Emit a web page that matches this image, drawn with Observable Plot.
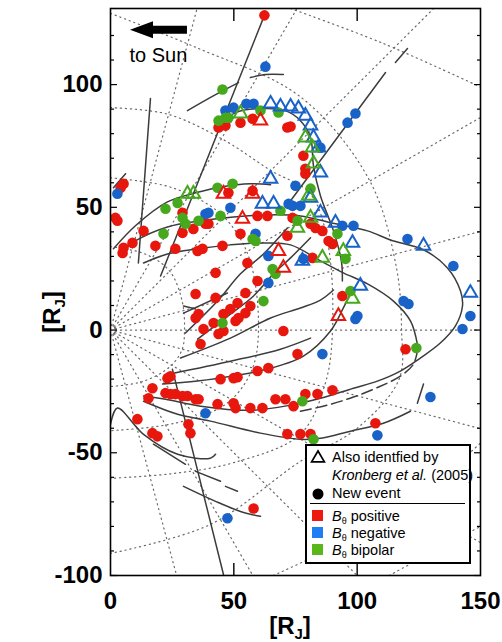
<!DOCTYPE html>
<html><head><meta charset="utf-8">
<script src="https://cdn.jsdelivr.net/npm/d3@7"></script>
<script src="https://cdn.jsdelivr.net/npm/@observablehq/plot@0.6"></script>
<style>
body{margin:0;background:#fff;}
#wrap{position:relative;width:502px;height:642px;font-family:'Liberation Sans',Arial,Helvetica,sans-serif;}
#wrap svg{display:block;}
g[aria-label$="tick label"] text{font-weight:bold;}
#legend{position:absolute;left:305px;top:444px;width:166px;height:120px;box-sizing:border-box;border:2px solid #000;background:#fff;font-size:14.5px;color:#000;}
#legend .t{position:absolute;left:25px;line-height:16px;white-space:nowrap;}
#legend .ic{position:absolute;}
#legend .sq{position:absolute;left:5px;width:11px;height:11px;}
#legend .sep{position:absolute;left:3px;width:155px;top:57px;height:0;border-top:1.6px solid #000;}
#legend sub{font-size:9px;vertical-align:-3px;line-height:0;}
</style></head><body><div id="wrap"></div>
<script>
const FONT = "'Liberation Sans', Arial, Helvetica, sans-serif";
const RED = "#e8170e", BLUE = "#1862c8", GREEN = "#46a81c";

// axis ticks
const xTicks = [0, 50, 100, 150];
const yTicks = [-100, -50, 0, 50, 100];
const yMinor = [-90,-80,-70,-60,-40,-30,-20,-10,10,20,30,40,60,70,80,90,110,120];
const xInner = [50, 100];

// events: new events (dots)
const posDots = [[62.4,128.2],[43.8,82.5],[46.6,83.3],[52.7,84.5],[57.6,86.1],[71.7,82.5],[73.0,82.9],[57.6,56.7],[47.8,55.9],[5.3,59.6],[4.1,58.0],[2.0,45.7],[2.8,44.5],[78.2,71.0],[79.0,65.7],[79.0,63.7],[29.2,47.8],[33.6,41.2],[29.2,39.6],[38.5,43.3],[39.7,43.3],[13.4,40.4],[8.9,35.5],[5.3,33.5],[4.9,31.4],[18.2,34.3],[26.3,33.1],[35.3,32.2],[37.3,33.1],[45.4,34.3],[52.7,39.2],[59.6,46.5],[63.6,46.5],[71.7,38.4],[73.8,45.7],[81.1,43.3],[83.1,41.6],[85.9,40.4],[88.4,36.3],[90.0,35.1],[81.9,29.4],[55.5,27.3],[42.6,23.3],[59.6,20.0],[34.5,14.7],[42.6,13.1],[54.7,15.1],[51.5,11.0],[48.6,8.6],[56.7,9.8],[35.7,6.5],[34.5,4.9],[45.8,6.5],[41.8,2.9],[50.7,3.7],[51.9,4.9],[54.7,6.9],[37.7,0.4],[43.8,-1.6],[45.8,-0.4],[36.5,-5.7],[70.1,-0.4],[75.8,-9.8],[64.0,-15.5],[59.6,-16.7],[23.1,-19.6],[24.3,-18.8],[94.0,13.9],[119.6,-7.8],[44.6,-20.0],[49.9,-19.6],[51.5,-19.2],[17.0,-23.7],[22.3,-25.7],[24.3,-26.1],[26.3,-26.1],[29.2,-26.9],[31.2,-26.9],[34.5,-28.2],[35.7,-28.2],[15.4,-27.8],[43.4,-30.2],[49.9,-29.8],[50.7,-31.8],[56.7,-31.8],[61.6,-31.8],[66.9,-28.2],[70.9,-28.2],[74.2,-31.0],[10.9,-36.3],[17.0,-42.0],[19.0,-43.3],[31.6,-38.4],[32.4,-42.0],[71.7,-42.4],[77.0,-42.4],[81.1,-42.4],[79.0,-26.1],[83.9,-26.1],[90.0,-24.5],[107.4,-38.0],[58.0,-72.7]];
const negDots = [[62.8,107.3],[46.6,89.4],[49.9,90.6],[55.1,92.2],[58.0,92.2],[99.3,88.2],[96.1,84.5],[85.1,74.3],[75.0,58.8],[2.8,55.5],[48.6,49.8],[38.5,47.3],[39.7,47.8],[72.2,51.4],[73.8,50.6],[77.0,50.6],[94.0,42.5],[98.5,42.5],[120.4,37.1],[139.0,26.1],[118.8,11.8],[120.8,10.6],[100.1,5.7],[99.3,4.5],[145.9,5.7],[142.7,0.4],[85.9,-9.8],[78.2,29.0],[58.8,39.2],[64.0,30.2],[64.0,19.2],[38.5,-33.9],[47.4,-76.7],[129.7,-27.3],[108.2,-42.9]];
const bipDots = [[45.4,98.0],[43.8,85.3],[46.6,86.5],[47.8,86.5],[60.8,89.4],[68.1,88.6],[43.4,58.0],[49.5,59.6],[81.1,57.6],[22.3,49.4],[27.2,51.8],[29.2,45.7],[30.4,43.3],[35.7,44.5],[44.6,46.5],[68.9,48.6],[75.8,44.5],[57.6,37.1],[58.8,36.3],[65.7,24.9],[66.9,22.9],[62.0,11.8],[92.0,39.2],[95.3,29.0],[97.3,15.9],[124.0,-7.3],[45.4,2.9],[77.8,-29.0],[82.3,-44.5],[21.5,39.2]];
// events also identified by Kronberg et al. (triangles)
const posTri = [[60.8,85.3],[45.8,55.5],[57.6,55.5],[53.5,45.3],[68.1,32.2],[70.1,25.3],[92.4,5.7]];
const negTri = [[64.9,92.2],[68.9,91.0],[73.0,91.0],[76.2,90.2],[79.0,87.3],[81.1,83.3],[82.3,78.4],[84.3,74.3],[85.1,64.1],[64.9,61.6],[81.1,53.9],[61.6,51.4],[66.1,51.4],[85.1,47.8],[91.2,43.7],[98.1,35.5],[126.9,34.3],[77.8,28.2],[101.3,18.0],[145.9,15.1]];
const bipTri = [[52.7,88.2],[31.2,55.5],[33.6,55.5],[79.0,78.4],[81.9,74.3],[82.3,67.8],[80.3,54.7],[81.1,45.7],[75.8,41.6],[85.9,29.4],[94.4,32.2],[98.1,12.7]];

// spacecraft trajectories (solid)
const orbitPaths = [
  [[62.4,128.2],[20.3,22.0]],
  [[16.2,94.3],[11.3,27.3]],
  [[31.2,89.4],[42.6,95.9],[51.9,100.8]],
  [[56.7,102.9],[62.8,104.1],[70.1,104.1]],
  [[111.5,104.9],[73.0,52.7]],
  [[115.5,109.0],[120.4,114.7]],
  [[43.8,83.3],[50.7,88.6],[60.8,90.2],[70.9,89.4],[77.0,85.3],[81.1,78.4],[82.3,66.9],[85.1,54.7],[90.4,40.4],[93.6,28.2],[94.0,20.0]],
  [[1.2,33.1],[10.1,42.5],[23.1,52.2],[34.5,55.9],[45.4,58.4],[56.7,59.6],[64.9,59.2]],
  [[4.1,31.4],[10.1,36.3],[23.1,42.0],[36.5,44.5],[49.9,46.1],[63.6,46.9],[77.0,46.5],[89.2,43.7],[104.2,40.4],[113.5,36.7],[126.9,32.7],[136.6,25.3],[141.9,15.9],[142.7,9.8],[139.8,1.6],[133.7,-5.3],[125.6,-11.4],[117.5,-16.7],[108.2,-20.8],[98.5,-23.7],[85.1,-27.8],[73.0,-30.6],[56.7,-32.7],[36.5,-31.0],[22.3,-28.2],[13.4,-26.9]],
  [[13.4,27.3],[23.1,31.0],[35.3,33.1],[48.6,34.7],[62.0,35.5],[73.0,34.7],[85.1,28.2],[94.4,23.3],[104.2,18.8],[114.7,11.8],[121.6,3.7],[124.4,-5.7]],
  [[13.4,-29.0],[27.2,-34.3],[40.5,-37.1],[60.8,-42.0],[77.0,-44.5],[85.1,-44.1],[97.3,-41.2],[110.6,-38.0],[121.6,-33.1]],
  [[124.4,-29.8],[126.9,-22.0]],
  [[29.6,6.9],[47.4,15.1]],
  [[29.6,9.8],[34.5,8.6]],
  [[30.4,-1.2],[43.4,11.8],[52.7,22.9],[62.0,31.0],[71.7,41.6]],
  [[35.3,-3.7],[48.6,6.5],[58.0,13.9],[66.1,22.9],[73.0,29.4],[81.1,37.6]],
  [[28.4,-11.4],[48.6,-3.3],[64.9,4.9],[77.0,9.0],[85.1,12.2],[90.4,16.3]],
  [[25.5,-17.6],[48.6,-12.7],[68.9,-7.8],[81.1,-3.3]],
  [[21.1,-22.0],[35.3,-20.8],[62.0,-16.3],[78.2,-10.6],[89.2,-0.4],[94.4,9.0],[98.1,16.7]],
  [[0,-38.4],[2.8,-31.8],[13.4,-42.5],[27.2,-50.6],[40.5,-52.2],[42.6,-50.6]],
  [[17.4,-46.5],[30.4,-54.7]],
  [[34.5,-57.6],[44.6,-61.6]],
  [[46.6,-63.7],[51.5,-65.7]],
  [[29.6,-63.7],[42.6,-69.8],[52.7,-73.9],[60.8,-75.9]],
  [[25.1,-16.0],[45.8,-99.6]],
  [[1.2,58.0],[6.1,63.7]]
];
// trajectories drawn dashed
const dashedPaths = [
  [[77.0,-33.1],[87.9,-30.6],[98.5,-27.3],[109.4,-22.9],[117.5,-18.8],[122.8,-13.9],[124.4,-8.6]]
];

// mapped local-time lines (dotted)
const gridRays = [
  [[2,0],[150,0]],
  [[1.9,0.5],[150,40.2]], [[1.7,1],[150,86.6]], [[1.4,1.4],[131,131]], [[1,1.7],[75.6,131]], [[0.5,1.9],[35.1,131]],
  [[1.9,-0.5],[150,-40.2]], [[1.7,-1],[150,-86.6]], [[1.4,-1.4],[100,-100]], [[1,-1.7],[57.7,-100]], [[0.5,-1.9],[26.8,-100]]
];
// mapped distance contours (dotted)
const gridRings = [
  [[0,2],[1.4,1.4],[2,0],[1.4,-1.4],[0,-2]],
  [[0,34],[14,31],[24,24],[29,12],[30,0],[29,-8],[24,-15],[13,-21],[0,-23]],
  [[0,62],[25,58],[45,47],[56,30],[60,0],[57,-17],[47,-30],[26,-38],[0,-41]],
  [[0,90.6],[23,88],[45,78],[65,65],[81,55.5],[88,36],[90,0],[87,-22],[77,-42.4],[50,-54],[25,-58.5],[0,-60.4]],
  [[0,129],[35,115],[77,95],[105,61],[116,25],[118,0],[117,-20],[100,-40],[77,-53.5],[40.5,-79.2],[0,-91]],
  [[73,131],[110,117],[150,99]],
  [[66,-100],[95,-86],[120,-70],[140,-55],[150,-46]],
  [[113,-100],[135,-88],[150,-80]]
];

// annotation
const sunArrow = {tip: [8.1, 122.1], tail: [31.2, 122.1]};
const sunLabel = {x: 7.7, y: 109.4, text: "to Sun"};

const toRows = paths => paths.flatMap((p, i) => p.map(([x, y]) => ({x, y, id: i})));
const X = d => d[0], Y = d => d[1];
const GRID = {stroke: "#6a6a6a", strokeWidth: 1.2, strokeDasharray: "1.2,3.8", clip: true};

const plot = Plot.plot({
  width: 502, height: 642,
  marginLeft: 110, marginRight: 22, marginTop: 8, marginBottom: 67,
  x: {domain: [0, 150]},
  y: {domain: [-100, 131]},
  style: {fontFamily: FONT, background: "#fff", color: "#000"},
  marks: [
    Plot.line(toRows(gridRays), {x: "x", y: "y", z: "id", ...GRID}),
    Plot.line(toRows(gridRings), {x: "x", y: "y", z: "id", curve: "catmull-rom", ...GRID}),
    Plot.line(toRows(orbitPaths), {x: "x", y: "y", z: "id", curve: "catmull-rom", stroke: "#3c3c3c", strokeWidth: 1.5, clip: true}),
    Plot.line(toRows(dashedPaths), {x: "x", y: "y", z: "id", curve: "catmull-rom", stroke: "#3c3c3c", strokeWidth: 1.5, strokeDasharray: "11,5", clip: true}),
    Plot.dot(posDots, {x: X, y: Y, r: 5.3, fill: RED}),
    Plot.dot(negDots, {x: X, y: Y, r: 5.3, fill: BLUE}),
    Plot.dot(bipDots, {x: X, y: Y, r: 5.3, fill: GREEN}),
    Plot.dot(posTri, {x: X, y: Y, r: 5, symbol: "triangle", fill: "none", stroke: RED, strokeWidth: 2}),
    Plot.dot(negTri, {x: X, y: Y, r: 5, symbol: "triangle", fill: "none", stroke: BLUE, strokeWidth: 2}),
    Plot.dot(bipTri, {x: X, y: Y, r: 5, symbol: "triangle", fill: "none", stroke: GREEN, strokeWidth: 2}),
    Plot.text([sunLabel], {x: "x", y: "y", text: "text", textAnchor: "start", lineAnchor: "bottom", fontSize: 20, fill: "#000"}),
    Plot.frame({stroke: "#000", strokeWidth: 1.6}),
    Plot.axisY({anchor: "left", ticks: yTicks, tickSize: 0, tickPadding: 8, fontSize: 24, fontWeight: "bold", tickFormat: d => `${d}`, label: null}),
    Plot.axisY({anchor: "left", ticks: yMinor, tickSize: -4, tickFormat: () => "", label: null, strokeWidth: 1.2}),
    Plot.axisY({anchor: "left", ticks: yTicks, tickSize: -7, tickFormat: () => "", label: null, strokeWidth: 1.2}),
    Plot.axisY({anchor: "right", ticks: yMinor, tickSize: -4, tickFormat: () => "", label: null, strokeWidth: 1.2}),
    Plot.axisY({anchor: "right", ticks: yTicks, tickSize: -7, tickFormat: () => "", label: null, strokeWidth: 1.2}),
    Plot.axisX({anchor: "bottom", ticks: xTicks, tickSize: 0, tickPadding: 16, fontSize: 24, fontWeight: "bold", tickFormat: d => `${d}`, label: null}),
    Plot.axisX({anchor: "bottom", ticks: xInner, tickSize: -12, tickFormat: () => "", label: null, strokeWidth: 1.4}),
    Plot.axisX({anchor: "top", ticks: xInner, tickSize: -12, tickFormat: () => "", label: null, strokeWidth: 1.4})
  ]
});

const wrap = document.getElementById("wrap");
wrap.appendChild(plot);

// arrow "to Sun"
const sx = plot.scale("x"), sy = plot.scale("y");
const svg = d3.select(plot);
const tx = sx.apply(sunArrow.tip[0]), ty = sy.apply(sunArrow.tip[1]), ex = sx.apply(sunArrow.tail[0]);
svg.append("polygon")
  .attr("points", [[tx,ty],[tx+23,ty-8.5],[tx+23,ty-4],[ex,ty-4],[ex,ty+4],[tx+23,ty+4],[tx+23,ty+8.5]].map(p => p.join(",")).join(" "))
  .attr("fill", "#000");

// axis titles [R_J]
function rj(g) {
  g.append("tspan").text("[R");
  g.append("tspan").attr("font-size", 15).attr("dy", 5).text("J");
  g.append("tspan").attr("dy", -5).text("]");
}
const xl = svg.append("text").attr("x", 290).attr("y", 634).attr("text-anchor", "middle")
  .attr("font-size", 24).attr("font-weight", "bold").attr("font-family", FONT).attr("fill", "#000");
rj(xl);
const yl = svg.append("text").attr("transform", "translate(60,312) rotate(-90)").attr("text-anchor", "middle")
  .attr("font-size", 24).attr("font-weight", "bold").attr("font-family", FONT).attr("fill", "#000");
rj(yl);

// legend
const legend = document.createElement("div");
legend.id = "legend";
legend.innerHTML = `
  <svg class="ic" style="left:3px;top:3px" width="16" height="15"><path d="M8,2L14.4,12.8H1.6Z" fill="none" stroke="#000" stroke-width="1.7"/></svg>
  <div class="t" style="top:3px">Also identfied by</div>
  <div class="t" style="top:21px"><i>Kronberg et al.</i> (2005)</div>
  <svg class="ic" style="left:4px;top:41px" width="14" height="14"><circle cx="7" cy="7" r="5.5" fill="#000"/></svg>
  <div class="t" style="top:39px">New event</div>
  <div class="sep"></div>
  <div class="sq" style="top:64px;background:#ee1a10"></div>
  <div class="t" style="top:62px"><i>B</i><sub>θ</sub> positive</div>
  <div class="sq" style="top:81px;background:#1f7ef5"></div>
  <div class="t" style="top:79px"><i>B</i><sub>θ</sub> negative</div>
  <div class="sq" style="top:98px;background:#58b81a"></div>
  <div class="t" style="top:96px"><i>B</i><sub>θ</sub> bipolar</div>`;
wrap.appendChild(legend);
</script>
</body></html>
